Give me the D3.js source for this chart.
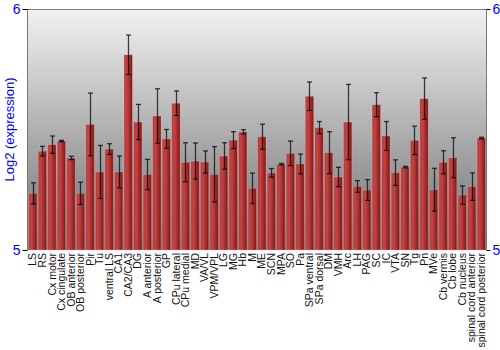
<!DOCTYPE html>
<html>
<head>
<meta charset="utf-8">
<script src="https://cdn.jsdelivr.net/npm/d3@7"></script>
<style>
  body { margin: 0; background: #fff; }
  .xlab { font-family: "Liberation Sans", Arial, sans-serif; font-size: 10.5px; fill: #111; }
</style>
</head>
<body>
<script>
// regions
var regions = ["LS", "RS", "Cx motor", "Cx cingulate", "OB anterior", "OB posterior",
    "Pir", "Tu", "ventral LS", "CA1", "CA2/CA3", "DG", "A anterior", "A posterior",
    "GP", "CPu lateral", "CPu medial", "MD", "VA/VL", "VPM/VPL", "LG", "MG", "Hb",
    "M", "ME", "SCN", "MPA", "SO", "Pa", "SPa ventral", "SPa dorsal", "DM", "VMH",
    "Arc", "LH", "PAG", "SC", "IC", "VTA", "SN", "Tg", "Pn", "MVe", "Cb vermis",
    "Cb lobe", "Cb nucleus", "spinal cord anterior", "spinal cord posterior"];

// log2 expression means
var means = [5.235, 5.41, 5.437, 5.452, 5.382, 5.235,
    5.521, 5.324, 5.419, 5.324, 5.81, 5.531, 5.313, 5.556,
    5.461, 5.609, 5.364, 5.369, 5.365, 5.314, 5.39, 5.456, 5.49,
    5.256, 5.47, 5.32, 5.356, 5.401, 5.357, 5.638, 5.508, 5.404, 5.303,
    5.531, 5.264, 5.249, 5.603, 5.473, 5.321, 5.344, 5.455, 5.628, 5.25, 5.364,
    5.383, 5.228, 5.263, 5.465];

// error (+/-)
var errs = [0.044, 0.02, 0.036, 0.003, 0.007, 0.046,
    0.13, 0.11, 0.022, 0.066, 0.082, 0.073, 0.063, 0.113,
    0.039, 0.051, 0.081, 0.075, 0.046, 0.115, 0.055, 0.035, 0.009,
    0.063, 0.052, 0.018, 0.003, 0.051, 0.041, 0.059, 0.025, 0.087, 0.04,
    0.156, 0.024, 0.043, 0.05, 0.06, 0.053, 0.003, 0.059, 0.086, 0.089, 0.048,
    0.083, 0.038, 0.057, 0.003];

var y_ticks = [5, 6];

var data = regions.map(function(r, i){
    return {region: r, mean: means[i], err: errs[i]};
});

var m_left = 28, m_right = 486, m_top = 9, m_bottom = 250;

var svg = d3.select("body").append("svg")
        .attr("width", 500)
        .attr("height", 350);

var defs = svg.append("defs");

var bg = defs.append("linearGradient")
        .attr("id", "bg")
        .attr("x1", 0).attr("y1", 0)
        .attr("x2", 0).attr("y2", 1);
bg.append("stop").attr("offset", "0%").attr("stop-color", "#f2f2f2");
bg.append("stop").attr("offset", "100%").attr("stop-color", "#6e6e6e");

var barGrad = defs.append("linearGradient")
        .attr("id", "bar")
        .attr("x1", 0).attr("y1", 0)
        .attr("x2", 1).attr("y2", 0);
barGrad.append("stop").attr("offset", "0%").attr("stop-color", "#b83a3a");
barGrad.append("stop").attr("offset", "35%").attr("stop-color", "#c24343");
barGrad.append("stop").attr("offset", "100%").attr("stop-color", "#7e1616");

// Scaling
var scale_x = d3.scaleBand()
        .domain(regions)
        .range([m_left, m_right])
        .paddingInner(0.12)
        .paddingOuter(0.06);

var scale_y = d3.scaleLinear()
        .domain([5, 6])
        .range([m_bottom, m_top]);

// background
svg.append("rect")
        .attr("x", m_left)
        .attr("y", m_top)
        .attr("width", m_right - m_left)
        .attr("height", m_bottom - m_top)
        .style("fill", "url(#bg)");

// bars
svg.selectAll(".bar")
        .data(data)
        .enter()
        .append("rect")
        .attr("class", "bar")
        .attr("x", function(d){ return scale_x(d.region); })
        .attr("y", function(d){ return scale_y(d.mean); })
        .attr("width", scale_x.bandwidth())
        .attr("height", function(d){ return m_bottom - scale_y(d.mean); })
        .style("fill", "url(#bar)")
        .style("stroke", "rgba(255,200,200,0.35)")
        .style("stroke-width", 0.8);

// error bars
var eb = svg.append("g")
        .style("stroke", "#000")
        .style("stroke-opacity", 0.72)
        .style("stroke-width", 1.3);

data.forEach(function(d){
    var cx = Math.round(scale_x(d.region) + scale_x.bandwidth()/2) + 0.5;
    var y1 = scale_y(d.mean + d.err),
        y2 = scale_y(d.mean - d.err);
    eb.append("line").attr("x1", cx).attr("x2", cx).attr("y1", y1).attr("y2", y2);
    eb.append("line").attr("x1", cx - 2.5).attr("x2", cx + 2.5).attr("y1", y1).attr("y2", y1);
    eb.append("line").attr("x1", cx - 2.5).attr("x2", cx + 2.5).attr("y1", y2).attr("y2", y2);
});

// frame
svg.append("path")
        .attr("d", "M" + (m_left - 0.5) + "," + m_bottom + "V" + (m_top + 0.5)
                 + "H" + (m_right + 0.5) + "V" + m_bottom)
        .style("fill", "none")
        .style("stroke", "#777")
        .style("stroke-width", 1);

// y axes
var y_left = svg.append("g")
        .attr("transform", "translate(" + (m_left - 0.5) + ",0)")
        .call(d3.axisLeft(scale_y).tickValues(y_ticks).tickSize(5).tickPadding(2).tickFormat(d3.format("d")));
var y_right = svg.append("g")
        .attr("transform", "translate(" + (m_right + 0.5) + ",0)")
        .call(d3.axisRight(scale_y).tickValues(y_ticks).tickSize(4).tickPadding(2).tickFormat(d3.format("d")));

[y_left, y_right].forEach(function(ax){
    ax.select(".domain").remove();
    ax.selectAll("line").style("stroke", "#000");
    ax.selectAll("text")
            .style("font-size", "14px")
            .style("font-family", "Liberation Sans, Arial, sans-serif")
            .style("fill", "#00f");
});

// x labels
svg.selectAll(".xlab")
        .data(data)
        .enter()
        .append("text")
        .attr("class", "xlab")
        .text(function(d){ return d.region; })
        .attr("transform", function(d){
            var cx = scale_x(d.region) + scale_x.bandwidth()/2;
            return "translate(" + cx + "," + (m_bottom + 3) + ") rotate(-90)";
        })
        .attr("text-anchor", "end")
        .attr("dy", "0.35em");

// y title
svg.append("text")
        .text("Log2 (expression)")
        .attr("transform", "translate(9," + ((m_top + m_bottom)/2) + ") rotate(-90)")
        .attr("text-anchor", "middle")
        .attr("dy", "0.35em")
        .style("font-family", "Liberation Sans, Arial, sans-serif")
        .style("font-size", "13px")
        .style("fill", "#00f");
</script>
</body>
</html>
